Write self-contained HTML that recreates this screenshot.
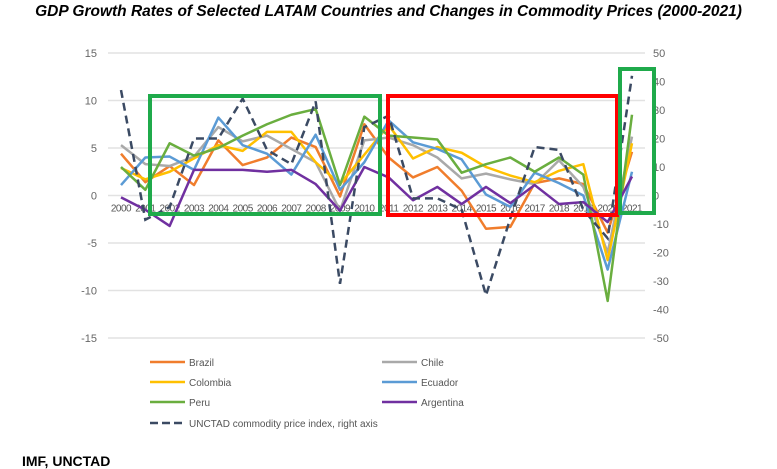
<!DOCTYPE html>
<html><head><meta charset="utf-8"><style>
body{margin:0;background:#fff;width:777px;height:458px;overflow:hidden;position:relative;font-family:"Liberation Sans",sans-serif}
#title{position:absolute;left:0;top:3px;width:777px;text-align:center;font:italic bold 15.5px "Liberation Sans",sans-serif;color:#000}
#src{position:absolute;left:22px;top:453px;font:bold 14px "Liberation Sans",sans-serif;color:#000}
</style></head><body>
<div id="title">GDP Growth Rates of Selected LATAM Countries and Changes in Commodity Prices (2000-2021)</div>
<svg id="chart" width="777" height="458" style="position:absolute;left:0;top:0"></svg>
<div id="src">IMF, UNCTAD</div>
<script>
const years=["2000","2001","2002","2003","2004","2005","2006","2007","2008","2009","2010","2011","2012","2013","2014","2015","2016","2017","2018","2019","2020","2021"];
const leftTicks=[15,10,5,0,-5,-10,-15];
const rightTicks=[50,40,30,20,10,0,-10,-20,-30,-40,-50];
const brazil=[4.4,1.4,3.1,1.1,5.8,3.2,4.0,6.1,5.1,-0.1,7.5,4.0,1.9,3.0,0.5,-3.5,-3.3,1.3,1.8,1.2,-3.9,4.6];
const chile=[5.3,3.3,3.1,4.1,7.2,5.7,6.3,4.9,3.5,-1.6,5.8,6.1,5.3,4.0,1.8,2.3,1.7,1.2,3.7,0.9,-6.0,6.2];
const colombia=[2.9,1.7,2.5,3.9,5.3,4.7,6.7,6.7,3.5,1.2,4.3,7.4,3.9,5.1,4.5,3.0,2.1,1.4,2.6,3.3,-6.8,5.5];
const ecuador=[1.1,4.0,4.1,2.7,8.2,5.3,4.4,2.2,6.4,0.6,3.5,7.9,5.6,4.9,3.8,0.1,-1.2,2.4,1.3,0.0,-7.8,2.5];
const peru=[3.0,0.6,5.5,4.2,5.0,6.3,7.5,8.5,9.1,1.1,8.3,6.3,6.1,5.9,2.4,3.3,4.0,2.5,4.0,2.2,-11.1,8.5];
const argentina=[-0.2,-1.5,-3.2,2.7,2.7,2.7,2.5,2.7,1.2,-1.6,3.0,1.9,-0.5,0.9,-0.9,0.9,-0.8,1.1,-0.9,-0.7,-2.8,2.0];
const commodity=[37,-8.5,-4,20,20,34,16,11,33,-31,24,28,-1,-1,-5,-35,-8,17,16,-5,-15,42];
const NS="http://www.w3.org/2000/svg";
const svg=document.getElementById('chart');
const x0=121,x1=632,yTop=53,yBot=338;
const xs=i=>x0+i*(x1-x0)/(years.length-1);
const yL=v=>yTop+(15-v)*(yBot-yTop)/30;
const yR=v=>yTop+(50-v)*(yBot-yTop)/100;
function mk(tag,attrs){const e=document.createElementNS(NS,tag);for(const k in attrs)e.setAttribute(k,attrs[k]);svg.appendChild(e);return e;}
leftTicks.forEach(v=>{
  const g=mk('line',{x1:108,x2:645,y1:yL(v),y2:yL(v),stroke:'#e2e2e2','stroke-width':1.5});
  
  
  const t=mk('text',{x:97,y:yL(v)+4,'text-anchor':'end','font-size':11,fill:'#666'});t.textContent=v;
  
  
});
rightTicks.forEach(v=>{
  const t=mk('text',{x:653,y:yR(v)+4,'font-size':11,fill:'#666'});t.textContent=v;
  
  
});
years.forEach((y,i)=>{
  const t=mk('text',{x:xs(i),y:yL(0)+16,'text-anchor':'middle','font-size':10,fill:'#555','letter-spacing':'-0.5'});t.textContent=y;
  
  
});
const series=[[brazil,'#f07d2c','brazil-line'],[chile,'#a9a9a9','chile-line'],[colombia,'#ffc000','colombia-line'],[ecuador,'#5b9bd5','ecuador-line'],[peru,'#6aae3f','peru-line'],[argentina,'#7030a0','argentina-line']];
series.forEach(([d,c,n])=>{
  const p=mk('polyline',{points:d.map((v,i)=>xs(i)+','+yL(v)).join(' '),fill:'none',stroke:c,'stroke-width':2.5,'stroke-linejoin':'round'});
  
  
});
const cp=mk('polyline',{points:commodity.map((v,i)=>xs(i)+','+yR(v)).join(' '),fill:'none',stroke:'#3b4a63','stroke-width':2.5,'stroke-dasharray':'8,5'});


const r1=mk('rect',{x:150,y:96,width:230,height:118,fill:'none',stroke:'#1faa4b','stroke-width':4});


const r2=mk('rect',{x:388,y:96,width:229,height:119,fill:'none',stroke:'#ff0000','stroke-width':4});


const r3=mk('rect',{x:620,y:69,width:34,height:144,fill:'none',stroke:'#1faa4b','stroke-width':4});


const legend=[['Brazil','#f07d2c',150,362,false],['Chile','#a9a9a9',382,362,false],['Colombia','#ffc000',150,382,false],['Ecuador','#5b9bd5',382,382,false],['Peru','#6aae3f',150,402,false],['Argentina','#7030a0',382,402,false],['UNCTAD commodity price index, right axis','#3b4a63',150,423,true]];
legend.forEach(([l,c,x,y,d])=>{
  const ln=mk('line',{x1:x,x2:x+35,y1:y,y2:y,stroke:c,'stroke-width':2.5});
  if(d)ln.setAttribute('stroke-dasharray','8,4');
  
  
  const t=mk('text',{x:x+39,y:y+4,'font-size':10,fill:'#555'});t.textContent=l;
  
  
});
</script>
</body></html>
